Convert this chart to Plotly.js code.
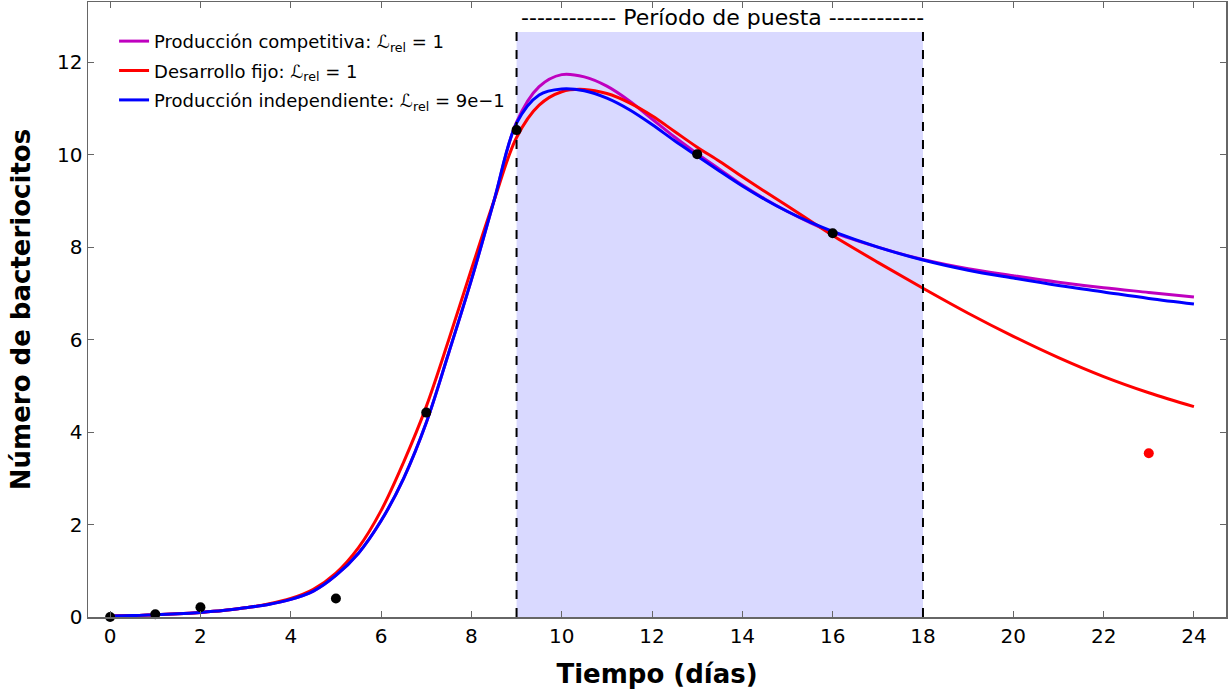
<!DOCTYPE html>
<html>
<head>
<meta charset="utf-8">
<script src="https://cdn.plot.ly/plotly-3.0.1.min.js"></script>
<style>
html,body{margin:0;padding:0;background:#fff;}
#chart{width:1230px;height:693px;}
</style>
</head>
<body>
<div id="chart"></div>
<script>
// Model curves
const tModel = [0,0.5,1,1.5,2,2.5,3,3.5,4,4.5,5,5.5,6,6.5,7,7.5,8,8.5,9,9.5,10,10.5,11,11.5,12,12.5,13,13.5,14,14.5,15,15.5,16,17,18,19,20,21,22,23,24];
const competitiva = [0.02,0.03,0.05,0.07,0.1,0.14,0.2,0.27,0.38,0.56,0.9,1.38,2.08,3.0,4.2,5.72,7.29,9.0,10.7,11.47,11.73,11.68,11.48,11.16,10.77,10.38,10.02,9.68,9.34,9.04,8.77,8.53,8.32,8.0,7.73,7.53,7.38,7.24,7.12,7.02,6.92];
const fijo = [0.02,0.03,0.05,0.07,0.1,0.14,0.2,0.28,0.4,0.6,0.95,1.5,2.3,3.35,4.55,6.0,7.52,9.0,10.37,11.07,11.36,11.41,11.32,11.12,10.84,10.5,10.16,9.85,9.52,9.2,8.89,8.57,8.25,7.67,7.11,6.57,6.07,5.61,5.2,4.85,4.55];
const independiente = [0.02,0.03,0.05,0.07,0.1,0.14,0.2,0.27,0.38,0.56,0.9,1.38,2.08,3.0,4.2,5.72,7.29,9.0,10.68,11.29,11.42,11.38,11.22,10.97,10.65,10.3,9.97,9.64,9.32,9.03,8.77,8.54,8.34,8.0,7.72,7.5,7.33,7.17,7.03,6.89,6.77];

// Observed data
const tObs = [0,1,2,5,7,9,13,16];
const yObs = [0,0.06,0.21,0.4,4.42,10.53,10.01,8.3];
const tExcl = [23];
const yExcl = [3.54];

// Laying period
const layStart = 9, layEnd = 18, layTop = 12.65;

const legendNames = [
  'Producción competitiva: ℒ<sub>rel</sub> = 1',
  'Desarrollo fijo: ℒ<sub>rel</sub> = 1',
  'Producción independiente: ℒ<sub>rel</sub> = 9e−1'
];

const lineStyle = (c) => ({color:c, width:3, shape:'spline', smoothing:1});

const traces = [
  {x:tModel, y:competitiva, mode:'lines', name:legendNames[0], legendgroup:'a', line:lineStyle('#bf00bf')},
  {x:tModel, y:fijo, mode:'lines', name:legendNames[1], legendgroup:'b', line:lineStyle('#ff0000')},
  {x:tModel, y:independiente, mode:'lines', name:legendNames[2], legendgroup:'c', line:lineStyle('#0000ff')},
  {x:tObs, y:yObs, mode:'markers', showlegend:false, marker:{color:'#000', size:10}, cliponaxis:false},
  {x:tExcl, y:yExcl, mode:'markers', showlegend:false, marker:{color:'#ff0000', size:10}}
];

const axisCommon = {
  showline:true, linecolor:'#666', linewidth:1.5, mirror:'allticks',
  ticks:'inside', ticklen:6, tickcolor:'#666', tickwidth:1,
  showgrid:false, zeroline:false,
  tickfont:{family:'DejaVu Sans', size:20, color:'#000'}
};

const layout = {
  width:1230, height:693,
  margin:{l:88, r:4, t:2, b:76},
  paper_bgcolor:'#fff', plot_bgcolor:'#fff',
  xaxis:Object.assign({}, axisCommon, {
    range:[-0.49, 24.71], tickvals:[0,2,4,6,8,10,12,14,16,18,20,22,24],
    title:{text:'<b>Tiempo (días)</b>', font:{family:'DejaVu Sans', size:26, color:'#000'}, standoff:18}
  }),
  yaxis:Object.assign({}, axisCommon, {
    range:[0, 13.3], tickvals:[0,2,4,6,8,10,12],
    title:{text:'<b>Número de bacteriocitos</b>', font:{family:'DejaVu Sans', size:26, color:'#000'}, standoff:19}
  }),
  legend:{x:0.0229, y:0.966, xanchor:'left', yanchor:'top', bgcolor:'rgba(0,0,0,0)', borderwidth:0,
    font:{family:'DejaVu Sans', size:18, color:'#000'}, itemwidth:30, tracegroupgap:3, traceorder:'grouped'},
  shapes:[
    {type:'rect', xref:'x', yref:'y', x0:layStart, x1:layEnd, y0:0, y1:layTop, fillcolor:'rgba(0,0,255,0.15)', line:{width:0}, layer:'below'},
    {type:'line', xref:'x', yref:'y', x0:layStart, x1:layStart, y0:0, y1:layTop, line:{color:'#000', width:2, dash:'dash'}},
    {type:'line', xref:'x', yref:'y', x0:layEnd, x1:layEnd, y0:0, y1:layTop, line:{color:'#000', width:2, dash:'dash'}}
  ],
  annotations:[
    {xref:'x', yref:'y', x:13.55, y:12.97, text:'------------ Período de puesta ------------', showarrow:false,
     font:{family:'DejaVu Sans', size:22, color:'#000'}, xanchor:'center', yanchor:'middle'}
  ]
};

Plotly.newPlot('chart', traces, layout, {displayModeBar:false, staticPlot:true});
</script>
</body>
</html>
